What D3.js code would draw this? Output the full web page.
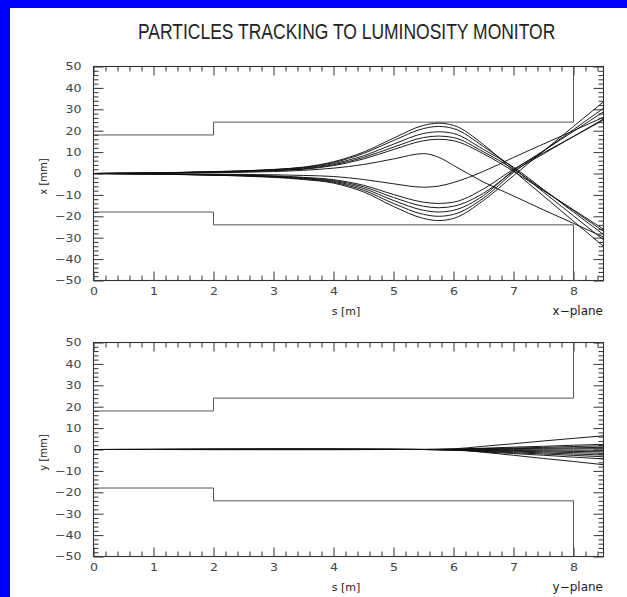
<!DOCTYPE html>
<html><head><meta charset="utf-8">
<script src="https://cdn.jsdelivr.net/npm/d3@7"></script>
<style>body{margin:0;background:#fff;} svg{display:block}</style>
</head><body><svg id="c" width="627" height="597"></svg>
<script>
const title = "PARTICLES TRACKING TO LUMINOSITY MONITOR";
const sTicks = [0,1,2,3,4,5,6,7,8];
const valTicks = [-50,-40,-30,-20,-10,0,10,20,30,40,50];

// aperture outline (s in m, value in mm)
const apertureS    = [0, 2, 2, 8, 8];
const apertureUp   = [18, 18, 24, 24, 50];
const apertureDown = [-18, -18, -24, -24, -50];

// x-plane trajectories, sampled at sX
const sX = [0,1,2,3,3.5,4,4.5,5,5.5,5.75,6,6.5,7,7.5,8,8.5];
const xU1 = [0,0.3,0.9,1.9,3.0,5.5,10,16.5,22.5,23.5,22.5,13.5,1.3,-10.5,-22.3,-34];
const xU2 = [0,0.3,0.8,1.8,2.8,5.1,9.4,15.4,21,22,21,12.6,2.5,-8.7,-19.8,-31];
const xU3 = [0,0.25,0.75,1.6,2.5,4.6,8.3,13.7,18.7,19.5,18.7,11.2,3.0,-7.5,-18,-28.5];
const xU4 = [0,0.2,0.7,1.4,2.2,4.1,7.5,12.3,16.8,17.5,16.8,10.1,2.0,-7.7,-17.3,-27];
const xU5 = [0,0.2,0.6,1.3,2.0,3.7,6.8,11.2,15.3,16,15.3,9.2,1.0,-8,-17,-26];
const xL1 = [0,-0.3,-0.8,-1.8,-2.8,-4.5,-8.6,-15.4,-21,-22,-21,-12.6,-1.0,10.5,22,33.5];
const xL2 = [0,-0.25,-0.75,-1.6,-2.5,-4.1,-7.8,-14,-19.1,-20,-19.1,-11.5,0.5,10.5,20.5,30.5];
const xL3 = [0,-0.2,-0.7,-1.5,-2.3,-3.7,-7.0,-12.6,-17.2,-18,-17.2,-10.3,1.5,10.6,19.7,28.8];
const xL4 = [0,-0.2,-0.6,-1.3,-2.0,-3.3,-6.2,-11.2,-15.3,-16,-15.3,-9.2,1.0,9.2,17.3,25.5];
const xL5 = [0,-0.2,-0.5,-1.1,-1.8,-2.9,-5.5,-9.8,-13.4,-14,-13.4,-7.2,2.0,9.7,17.3,25];
const xUT = [0,0.1,0.4,0.9,1.5,2.5,4.2,6.8,9.3,7.6,3.8,-4.0,-10.5,-17,-23.3,-29.7];
const xLT = [0,-0.1,-0.3,-0.6,-0.9,-1.4,-2.8,-4.8,-6.4,-5.9,-4.2,1.0,7.5,13.8,20,26.3];
const xTracks = [xU1,xU2,xU3,xU4,xU5,xL1,xL2,xL3,xL4,xL5,xUT,xLT];

// y-plane trajectories, sampled at sY
const sY = [0,1,2,3,4,5,5.5,6,6.5,7,7.5,8,8.5];
const yT1  = [0,0.05,0.1,0.15,0.15,0.1,0.05,0.3,1.5,2.7,4.0,5.2,6.4];
const yT2  = [0,0.05,0.1,0.1,0.1,0.05,0,0.2,0.6,1.1,1.5,2.0,2.4];
const yT3  = [0,0,0.05,0.1,0.1,0.05,0,0.1,0.4,0.7,1.0,1.4,1.7];
const yT4  = [0,0,0.05,0.05,0.05,0,0,0.05,0.2,0.4,0.6,0.8,1.0];
const yT5  = [0,0,0,0.05,0.05,0,0,0,0.1,0.15,0.25,0.3,0.4];
const yT6  = [0,0,0,0,0,0,0,-0.05,-0.1,-0.15,-0.25,-0.3,-0.4];
const yT7  = [0,0,-0.05,-0.05,-0.05,0,0,-0.1,-0.25,-0.45,-0.65,-0.9,-1.1];
const yT8  = [0,0,0.05,0.1,0.1,0.05,0,-0.15,-0.45,-0.75,-1.1,-1.45,-1.8];
const yT9  = [0,0.05,0.1,0.1,0.1,0.05,0,-0.2,-0.65,-1.1,-1.6,-2.1,-2.6];
const yT10 = [0,0,-0.05,-0.05,-0.05,0,0,-0.25,-0.85,-1.5,-2.1,-2.75,-3.4];
const yT11 = [0,0.05,0.1,0.15,0.1,0.05,0,-0.3,-1.1,-1.9,-2.7,-3.55,-4.4];
const yT12 = [0,0.05,0.1,0.15,0.15,0.1,0.05,-0.1,-1.3,-2.7,-4.2,-5.6,-7.1];
const yTracks = [yT1,yT2,yT3,yT4,yT5,yT6,yT7,yT8,yT9,yT10,yT11,yT12];

const svg = d3.select("#c");
svg.append("rect").attr("width",627).attr("height",597).attr("fill","#fff");
svg.append("rect").attr("x",0).attr("y",0).attr("width",10).attr("height",597).attr("fill","#0000ff");
svg.append("rect").attr("x",0).attr("y",0).attr("width",627).attr("height",8).attr("fill","#0000ff");

svg.append("text").attr("transform","translate(138,39) scale(0.795,1)")
  .attr("font-family","Liberation Sans, Arial, sans-serif").attr("font-size",22)
  .attr("fill","#222")
  .text(title);

const X0 = 93.5, X1 = 603.5;
const x = d3.scaleLinear().domain([0,8.5]).range([X0,X1]);
const minorS = d3.range(0,43).map(i=>i*0.2).filter(v=>Math.abs(v-Math.round(v))>1e-6 && v<=8.5);
const minorV = d3.range(-25,26).map(i=>i*2).filter(v=>v%10!==0);

function panel(top, bottom, sArr, tracks, yLab, planeLab){
  const y = d3.scaleLinear().domain([-50,50]).range([bottom, top]);
  const g = svg.append("g");
  const tickCol = "#333";
  function style(sel){
    sel.select(".domain").remove();
    sel.selectAll("line").attr("stroke",tickCol).attr("stroke-width",1);
    sel.selectAll("text").attr("fill","#444")
      .attr("font-family","DejaVu Sans, sans-serif").attr("font-size",10.5);
  }
  // bottom axis
  g.append("g").attr("transform",`translate(0,${bottom})`)
    .call(d3.axisBottom(x).tickValues(sTicks).tickSizeInner(-9).tickSizeOuter(0).tickPadding(7).tickFormat(d3.format("d")))
    .call(s=>{style(s); s.selectAll("text").attr("transform","scale(1.2,1)");});
  g.append("g").attr("transform",`translate(0,${bottom})`)
    .call(d3.axisBottom(x).tickValues(minorS).tickSizeInner(-5).tickSizeOuter(0).tickFormat(""))
    .call(style);
  // top axis
  g.append("g").attr("transform",`translate(0,${top})`)
    .call(d3.axisTop(x).tickValues(sTicks).tickSizeInner(-9).tickSizeOuter(0).tickFormat(""))
    .call(style);
  g.append("g").attr("transform",`translate(0,${top})`)
    .call(d3.axisTop(x).tickValues(minorS).tickSizeInner(-5).tickSizeOuter(0).tickFormat(""))
    .call(style);
  // left axis
  g.append("g").attr("transform",`translate(${X0},0)`)
    .call(d3.axisLeft(y).tickValues(valTicks).tickSizeInner(-10).tickSizeOuter(0).tickPadding(10).tickFormat(d3.format("d")))
    .call(s=>{style(s); s.selectAll("text").attr("transform","scale(1.2,1)");});
  g.append("g").attr("transform",`translate(${X0},0)`)
    .call(d3.axisLeft(y).tickValues(minorV).tickSizeInner(-5).tickSizeOuter(0).tickFormat(""))
    .call(style);
  // right axis
  g.append("g").attr("transform",`translate(${X1},0)`)
    .call(d3.axisRight(y).tickValues(valTicks).tickSizeInner(-10).tickSizeOuter(0).tickFormat(""))
    .call(style);
  g.append("g").attr("transform",`translate(${X1},0)`)
    .call(d3.axisRight(y).tickValues(minorV).tickSizeInner(-5).tickSizeOuter(0).tickFormat(""))
    .call(style);
  // frame
  g.append("rect").attr("x",X0).attr("y",top).attr("width",X1-X0).attr("height",bottom-top)
    .attr("fill","none").attr("stroke",tickCol).attr("stroke-width",1.1);

  // aperture
  const apLine = d3.line().x(d=>x(d[0])).y(d=>y(d[1]));
  [apertureUp, apertureDown].forEach(arr=>{
    g.append("path").attr("d", apLine(apertureS.map((s,i)=>[s,arr[i]])))
      .attr("fill","none").attr("stroke","#555").attr("stroke-width",1);
  });

  // tracks
  const tl = d3.line().x(d=>x(d[0])).y(d=>y(d[1])).curve(d3.curveMonotoneX);
  const clipId = "clip"+Math.round(top);
  g.append("clipPath").attr("id",clipId).append("rect")
    .attr("x",X0).attr("y",top).attr("width",X1-X0).attr("height",bottom-top);
  const tg = g.append("g").attr("clip-path",`url(#${clipId})`);
  tracks.forEach(tr=>{
    tg.append("path").attr("d", tl(sArr.map((s,i)=>[s,tr[i]])))
      .attr("fill","none").attr("stroke","#111").attr("stroke-width",0.95);
  });

  // labels
  g.append("text").attr("x",346).attr("y",bottom+34).attr("text-anchor","middle")
    .attr("font-family","DejaVu Sans, sans-serif").attr("font-size",11).attr("fill","#222")
    .text("s [m]");
  g.append("text").attr("x",603).attr("y",bottom+34).attr("text-anchor","end")
    .attr("font-family","DejaVu Sans, sans-serif").attr("font-size",12).attr("fill","#222")
    .text(planeLab);
  g.append("text").attr("transform",`translate(47,${y(0)+3}) rotate(-90)`).attr("text-anchor","middle")
    .attr("font-family","DejaVu Sans, sans-serif").attr("font-size",10).attr("fill","#222")
    .text(yLab);
}

panel(66.5, 280.5, sX, xTracks, "x [mm]", "x\u2212plane");
panel(342.5, 556.5, sY, yTracks, "y [mm]", "y\u2212plane");
</script>
</body></html>
